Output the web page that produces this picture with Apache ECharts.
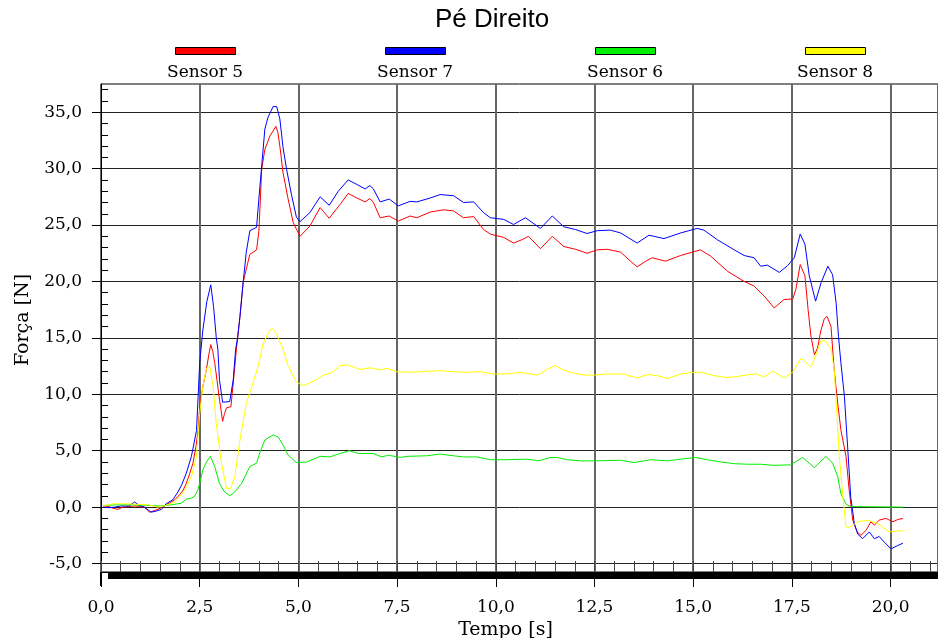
<!DOCTYPE html>
<html><head><meta charset="utf-8">
<script src="https://cdn.jsdelivr.net/npm/echarts@6/dist/echarts.min.js"></script>
<style>html,body{margin:0;padding:0;background:#fff}#c{width:938px;height:638px}</style>
</head><body><div id="c"></div>
<script>
const chartTitle = 'Pé Direito';
const seriesNames = ['Sensor 5', 'Sensor 7', 'Sensor 6', 'Sensor 8'];
const seriesColors = ['#ff0000', '#0000ff', '#00ee00', '#ffff00'];
const xAxisName = 'Tempo [s]';
const yAxisName = 'Força [N]';
const yTickValues = [-5, 0, 5, 10, 15, 20, 25, 30, 35];
const yMinorValues = [-4,-3,-2,-1,1,2,3,4,6,7,8,9,11,12,13,14,16,17,18,19,21,22,23,24,26,27,28,29,31,32,33,34,36,37];

// [time (s), force (N)]
const sensor5 = [[0.05,0],[0.2,0.05],[0.3,-0.1],[0.43,-0.2],[0.55,0],[0.7,0.05],[0.85,0.1],[1.0,0.05],[1.1,0],[1.23,-0.45],[1.36,-0.3],[1.5,-0.1],[1.65,0.2],[1.75,0.4],[1.87,0.65],[1.99,1.1],[2.08,1.5],[2.16,2.1],[2.25,3.0],[2.33,3.9],[2.41,5.5],[2.46,6.8],[2.5,8.9],[2.58,10.7],[2.67,12.2],[2.73,13.5],[2.78,14.4],[2.83,13.8],[2.88,12.8],[2.94,11.2],[2.99,9.8],[3.04,8.6],[3.08,7.6],[3.13,8.3],[3.18,8.8],[3.29,8.9],[3.35,11.0],[3.43,14.0],[3.52,16.9],[3.6,19.9],[3.68,21.1],[3.77,22.4],[3.94,22.8],[4.0,24.5],[4.07,29.95],[4.15,31.7],[4.28,32.9],[4.43,33.75],[4.48,33.2],[4.53,32.0],[4.61,29.65],[4.74,27.3],[4.87,25.2],[5.04,24.0],[5.29,24.9],[5.55,26.55],[5.78,25.6],[6.05,26.8],[6.26,27.8],[6.48,27.4],[6.69,27.05],[6.81,27.35],[6.9,27.0],[7.07,25.65],[7.3,25.8],[7.53,25.35],[7.83,25.8],[8.0,25.65],[8.34,26.15],[8.68,26.35],[8.93,26.25],[9.18,25.65],[9.44,25.75],[9.69,24.6],[9.86,24.2],[10.2,23.9],[10.45,23.4],[10.66,23.7],[10.83,24.0],[11.13,22.9],[11.43,24.0],[11.72,23.1],[12.02,22.85],[12.31,22.5],[12.57,22.8],[12.82,22.85],[13.16,22.6],[13.41,21.8],[13.58,21.3],[13.8,21.8],[13.96,22.1],[14.3,21.8],[14.68,22.3],[15.18,22.8],[15.44,22.25],[15.87,20.9],[16.29,20.0],[16.54,19.6],[16.8,18.7],[17.05,17.65],[17.3,18.4],[17.52,18.45],[17.6,19.3],[17.71,21.5],[17.83,20.5],[17.91,17.5],[17.98,15.2],[18.07,13.5],[18.15,14.1],[18.23,15.6],[18.32,16.7],[18.39,16.9],[18.49,16.0],[18.57,12.2],[18.66,9.2],[18.74,6.85],[18.87,4.5],[18.95,1.5],[19.04,-1.15],[19.15,-2.2],[19.25,-2.5],[19.38,-2.05],[19.5,-1.3],[19.59,-1.6],[19.71,-1.15],[19.88,-1.0],[20.06,-1.3],[20.18,-1.1],[20.31,-1.0]];

const sensor7 = [[0.05,0],[0.2,-0.05],[0.35,0],[0.5,0.1],[0.7,0.1],[0.85,0.45],[0.95,0.2],[1.1,0],[1.27,-0.45],[1.4,-0.35],[1.53,-0.2],[1.65,0.3],[1.82,0.65],[1.95,1.35],[2.04,1.95],[2.16,3.0],[2.29,4.5],[2.42,6.8],[2.46,9.8],[2.5,12.8],[2.58,15.7],[2.68,18.2],[2.78,19.7],[2.85,17.8],[2.92,15.0],[2.96,14.0],[3.0,11.3],[3.08,9.3],[3.26,9.35],[3.35,11.3],[3.41,14.0],[3.46,15.0],[3.52,16.9],[3.6,19.9],[3.68,22.6],[3.77,24.5],[3.94,24.8],[4.02,28.2],[4.15,33.5],[4.23,34.55],[4.36,35.5],[4.45,35.5],[4.53,34.4],[4.61,31.9],[4.7,29.95],[4.83,27.6],[4.95,25.7],[5.04,25.3],[5.29,26.1],[5.55,27.5],[5.78,26.75],[6.01,28.0],[6.26,29.0],[6.48,28.6],[6.69,28.2],[6.81,28.5],[6.9,28.2],[7.07,27.05],[7.3,27.3],[7.53,26.7],[7.83,27.1],[8.0,27.05],[8.34,27.4],[8.59,27.7],[8.93,27.6],[9.18,27.0],[9.44,27.05],[9.69,26.1],[9.86,25.65],[10.2,25.5],[10.45,25.05],[10.75,25.65],[11.13,24.7],[11.43,25.8],[11.72,24.85],[12.02,24.6],[12.31,24.25],[12.57,24.5],[12.9,24.55],[13.16,24.3],[13.58,23.4],[13.88,24.1],[14.26,23.8],[14.68,24.3],[15.1,24.7],[15.27,24.55],[15.61,23.7],[16.04,22.8],[16.29,22.3],[16.54,22.1],[16.71,21.35],[16.88,21.45],[17.18,20.8],[17.39,21.4],[17.56,22.1],[17.71,24.2],[17.83,23.3],[17.94,20.5],[18.1,18.25],[18.24,19.9],[18.41,21.35],[18.53,20.6],[18.62,18.1],[18.68,15.1],[18.74,12.8],[18.83,9.8],[18.91,5.4],[18.99,0.9],[19.08,-1.45],[19.17,-2.4],[19.29,-2.8],[19.46,-2.2],[19.59,-2.8],[19.71,-2.6],[19.84,-3.1],[20.01,-3.7],[20.18,-3.4],[20.31,-3.2]];

const sensor6 = [[0.05,0.15],[0.4,0.2],[0.8,0.2],[1.2,0.15],[1.5,0.1],[1.78,0.2],[2.04,0.35],[2.16,0.7],[2.29,0.8],[2.37,0.95],[2.45,1.5],[2.5,2.1],[2.58,3.3],[2.67,4.0],[2.77,4.5],[2.88,3.6],[3.0,2.1],[3.13,1.35],[3.26,1.0],[3.39,1.35],[3.56,2.1],[3.77,3.6],[3.94,3.9],[4.02,4.8],[4.15,5.95],[4.36,6.4],[4.49,6.2],[4.61,5.5],[4.74,4.6],[4.95,3.95],[5.21,4.0],[5.55,4.5],[5.8,4.45],[6.05,4.75],[6.29,5.0],[6.52,4.75],[6.9,4.75],[7.11,4.45],[7.28,4.6],[7.58,4.4],[7.75,4.5],[8.25,4.55],[8.59,4.7],[8.93,4.55],[9.18,4.45],[9.52,4.45],[9.86,4.2],[10.28,4.2],[10.79,4.25],[11.09,4.1],[11.38,4.4],[11.55,4.4],[11.81,4.2],[12.15,4.1],[12.48,4.1],[13.16,4.15],[13.5,3.95],[13.92,4.2],[14.35,4.1],[14.68,4.25],[15.06,4.4],[15.36,4.2],[15.7,4.0],[16.04,3.85],[16.38,3.8],[16.71,3.8],[17.05,3.7],[17.47,3.75],[17.77,4.4],[18.07,3.5],[18.36,4.5],[18.53,3.9],[18.66,2.7],[18.74,1.2],[18.87,0.27],[18.99,0.05],[20.31,0.0]];

const sensor8 = [[0.05,0.1],[0.3,0.3],[0.6,0.3],[0.9,0.25],[1.2,0.2],[1.45,0.0],[1.6,0.1],[1.78,0.35],[1.9,0.5],[1.99,0.95],[2.12,1.5],[2.16,1.8],[2.29,2.7],[2.42,4.5],[2.5,8.3],[2.58,10.7],[2.67,12.3],[2.75,12.5],[2.84,10.7],[2.92,7.4],[3.05,3.9],[3.18,1.65],[3.28,1.65],[3.39,2.7],[3.52,5.95],[3.68,9.2],[3.85,11.0],[3.98,12.5],[4.11,14.55],[4.28,15.7],[4.36,15.8],[4.45,15.3],[4.61,14.0],[4.74,12.5],[4.95,11.1],[5.12,10.75],[5.38,11.15],[5.63,11.7],[5.84,11.9],[6.05,12.55],[6.26,12.6],[6.56,12.2],[6.81,12.35],[7.07,12.15],[7.25,12.3],[7.49,12.0],[7.83,11.95],[8.08,12.0],[8.59,12.1],[8.93,12.0],[9.27,11.95],[9.61,12.0],[9.94,11.8],[10.28,11.8],[10.62,11.95],[11.05,11.7],[11.3,12.2],[11.49,12.55],[11.72,12.15],[11.89,11.95],[12.23,11.7],[12.48,11.7],[12.82,11.8],[13.24,11.8],[13.58,11.45],[13.84,11.75],[14.09,11.65],[14.35,11.4],[14.68,11.8],[15.02,11.95],[15.19,11.95],[15.53,11.65],[15.82,11.5],[16.08,11.55],[16.33,11.7],[16.59,11.8],[16.8,11.55],[17.01,12.05],[17.3,11.45],[17.52,11.95],[17.73,13.2],[17.86,12.8],[17.98,12.4],[18.1,13.4],[18.23,14.7],[18.32,14.8],[18.49,14.0],[18.57,12.2],[18.64,8.3],[18.7,4.5],[18.79,0.9],[18.87,-1.75],[18.95,-1.8],[19.17,-1.3],[19.42,-1.15],[19.67,-1.45],[19.97,-2.2],[20.18,-2.1],[20.31,-2.1]];

const seriesData = [sensor5, sensor7, sensor6, sensor8];

const serif = "DejaVu Serif";
const fmt = v => v.toFixed(1).replace('.', ',');
const yMin = -5.75, yMax = 37.5, xMin = 0, xMax = 21.2;
const legendLeft = [175, 385, 595, 805];

const chart = echarts.init(document.getElementById('c'), null, {renderer: 'canvas'});
chart.setOption({
  animation: false,
  backgroundColor: '#fff',
  title: {
    text: chartTitle, left: 435, top: 7, padding: 0,
    textStyle: {fontFamily: 'Liberation Sans', fontSize: 26, fontWeight: 'normal', color: '#000'}
  },
  legend: seriesNames.map((n, i) => ({
    data: [n], left: legendLeft[i], top: 47, padding: 0,
    icon: 'rect', itemWidth: 60, itemHeight: 7, itemGap: 0,
    itemStyle: {borderColor: '#000', borderWidth: 1},
    formatter: () => '',
    textStyle: {fontFamily: serif, fontSize: 17, color: '#000'}
  })),
  grid: {left: 101, right: 0, top: 84, bottom: 66, show: true, borderColor: '#000', borderWidth: 1,
         backgroundColor: 'transparent', containLabel: false, outerBoundsMode: 'none'},
  xAxis: [
    {
      type: 'value', min: xMin, max: xMax, interval: 2.5, position: 'bottom',
      axisLine: {show: true, onZero: false, lineStyle: {color: '#000'}},
      axisTick: {show: true, length: 15, lineStyle: {color: '#000'}},
      axisLabel: {formatter: fmt, margin: 27, showMaxLabel: false, fontFamily: serif, fontSize: 17, color: '#000'},
      splitLine: {show: true, lineStyle: {color: '#666', width: 2}},
      name: xAxisName, nameLocation: 'middle', nameGap: 47,
      nameTextStyle: {fontFamily: serif, fontSize: 19, color: '#000', padding: [0, 28, 0, 0]}
    },
    {
      type: 'value', min: xMin, max: xMax, interval: 0.5, position: 'bottom',
      axisLine: {show: false, onZero: false},
      axisTick: {show: true, inside: true, length: 11, lineStyle: {color: '#444'}},
      axisLabel: {show: false}, splitLine: {show: false}
    }
  ],
  yAxis: [
    {
      type: 'value', min: yMin, max: yMax, position: 'left',
      axisLine: {show: true, onZero: false, lineStyle: {color: '#000'}},
      axisTick: {show: true, length: 9, customValues: yTickValues, lineStyle: {color: '#000'}},
      axisLabel: {customValues: yTickValues, formatter: fmt, margin: 19, fontFamily: serif, fontSize: 17, color: '#000'},
      splitLine: {show: true, lineStyle: {color: '#222', width: 1}},
      name: yAxisName, nameLocation: 'middle', nameGap: 68,
      nameTextStyle: {fontFamily: serif, fontSize: 19, color: '#000', padding: [0, 0, 0, 16]}
    },
    {
      type: 'value', min: yMin, max: yMax, position: 'left', offset: 0,
      axisLine: {show: false, onZero: false},
      axisTick: {show: true, inside: true, length: 7, customValues: yMinorValues, lineStyle: {color: '#000'}},
      axisLabel: {show: false}, splitLine: {show: false}
    }
  ],
  graphic: [
    {type: 'rect', shape: {x: 108, y: 573, width: 832, height: 6}, style: {fill: '#000'}, z: 10, silent: true},
    {type: 'line', shape: {x1: 100.5, y1: 572, x2: 100.5, y2: 586}, style: {stroke: '#000', lineWidth: 1}, silent: true}
  ].concat(seriesNames.map((n, i) => ({
    type: 'text', x: legendLeft[i] + 30, y: 73, silent: true,
    style: {text: n, fontFamily: serif, fontSize: 17, fill: '#000', align: 'center', verticalAlign: 'middle'}
  }))),
  series: seriesNames.map((n, i) => ({
    name: n, type: 'line', xAxisIndex: 0, yAxisIndex: 0,
    data: seriesData[i], showSymbol: false, symbol: 'none',
    lineStyle: {width: 1, color: seriesColors[i]},
    itemStyle: {color: seriesColors[i]}
  }))
});
</script></body></html>
